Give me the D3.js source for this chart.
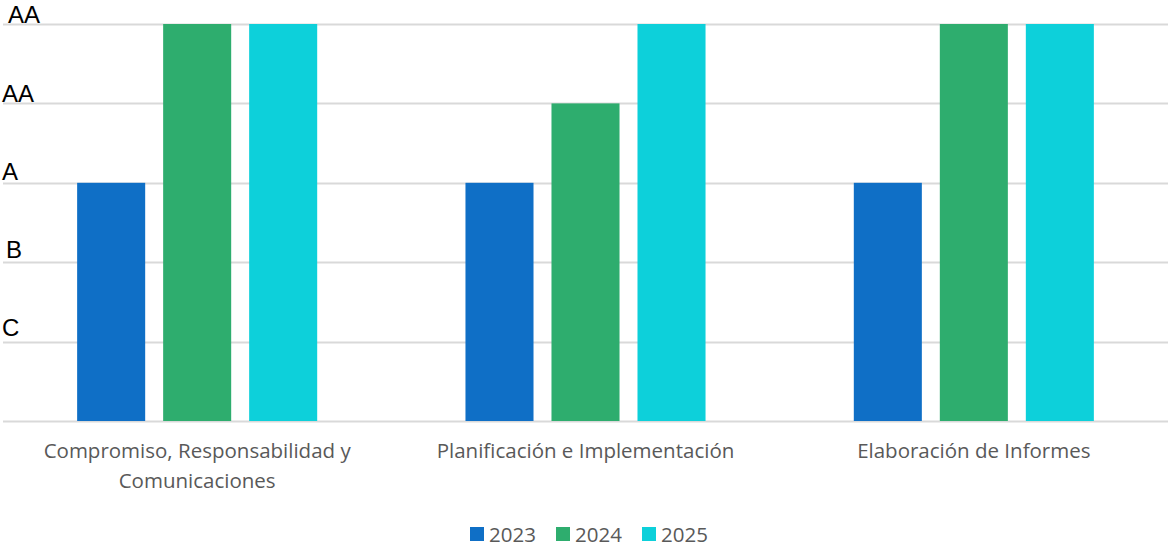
<!DOCTYPE html>
<html>
<head>
<meta charset="utf-8">
<script src="https://cdn.jsdelivr.net/npm/d3@7"></script>
<style>
  body { margin: 0; background: #fff; }
  svg { display: block; }
</style>
</head>
<body>
<script>
// Chart data
const categories = ["Compromiso, Responsabilidad y Comunicaciones", "Planificación e Implementación", "Elaboración de Informes"];
const series = ["2023", "2024", "2025"];
const values2023 = [3, 3, 3];
const values2024 = [5, 4, 5];
const values2025 = [5, 5, 5];
const tickValues = [1, 2, 3, 4, 5];
const tickLabels = ["C", "B", "A", "AA", "AA"];
const colors = ["#0F6FC6", "#2EAD6E", "#0DD0DA"];

const allValues = [values2023, values2024, values2025];

const width = 1172, height = 547;
const margin = {top: 24, right: 4, bottom: 126, left: 3};

const svg = d3.select("body").append("svg")
    .attr("width", width)
    .attr("height", height);

const x = d3.scaleBand()
    .domain(categories)
    .range([margin.left, width - margin.right]);

const xInner = d3.scaleBand()
    .domain(series)
    .range([0, x.bandwidth()])
    .paddingInner(0.209)
    .paddingOuter(0.862);

const y = d3.scaleLinear()
    .domain([0, 5])
    .range([height - margin.bottom, margin.top]);

// gridlines
svg.append("g")
  .selectAll("line")
  .data([0].concat(tickValues))
  .enter().append("line")
    .attr("x1", margin.left)
    .attr("x2", width - margin.right)
    .attr("y1", d => Math.round(y(d)) + 0.5)
    .attr("y2", d => Math.round(y(d)) + 0.5)
    .attr("stroke", "#d9d9d9")
    .attr("stroke-width", 2);

// y labels
svg.append("g")
  .selectAll("text")
  .data(tickValues)
  .enter().append("text")
    .attr("x", (d, i) => i === 4 ? 8 : (i === 1 ? 6 : 2))
    .attr("y", (d, i) => y(d) - [6, 4, 3, 1.5, 1][i])
    .attr("font-family", "Liberation Sans, Arial, sans-serif")
    .attr("font-size", 24)
    .attr("fill", "#000")
    .text((d, i) => tickLabels[i]);

// bars
const group = svg.append("g")
  .selectAll("g")
  .data(categories)
  .enter().append("g")
    .attr("transform", d => `translate(${x(d)},0)`);

group.selectAll("rect")
  .data((d, ci) => series.map((s, si) => ({s, si, v: allValues[si][ci]})))
  .enter().append("rect")
    .attr("x", d => xInner(d.s))
    .attr("width", xInner.bandwidth())
    .attr("y", d => y(d.v))
    .attr("height", d => y(0) - y(d.v))
    .attr("fill", d => colors[d.si]);

// category labels (wrapped)
const catLines = [["Compromiso, Responsabilidad y", "Comunicaciones"], ["Planificación e Implementación"], ["Elaboración de Informes"]];
const catText = svg.append("g")
  .selectAll("text")
  .data(categories)
  .enter().append("text")
    .attr("x", d => x(d) + x.bandwidth() / 2)
    .attr("y", 458)
    .attr("text-anchor", "middle")
    .attr("font-family", "Open Sans, sans-serif")
    .attr("font-size", 20.5)
    .attr("fill", "#595959");

catText.selectAll("tspan")
  .data((d, i) => catLines[i])
  .enter().append("tspan")
    .attr("x", function() { return this.parentNode.getAttribute("x"); })
    .attr("dy", (d, i) => i === 0 ? 0 : 30)
    .text(d => d);

// legend
const legendX = [470, 556, 642];
const legend = svg.append("g")
  .selectAll("g")
  .data(series)
  .enter().append("g")
    .attr("transform", (d, i) => `translate(${legendX[i]},527)`);

legend.append("rect")
    .attr("width", 14)
    .attr("height", 14)
    .attr("fill", (d, i) => colors[i]);

legend.append("text")
    .attr("x", 19)
    .attr("y", 15)
    .attr("font-family", "Open Sans, sans-serif")
    .attr("font-size", 20.5)
    .attr("fill", "#595959")
    .text(d => d);
</script>
</body>
</html>
